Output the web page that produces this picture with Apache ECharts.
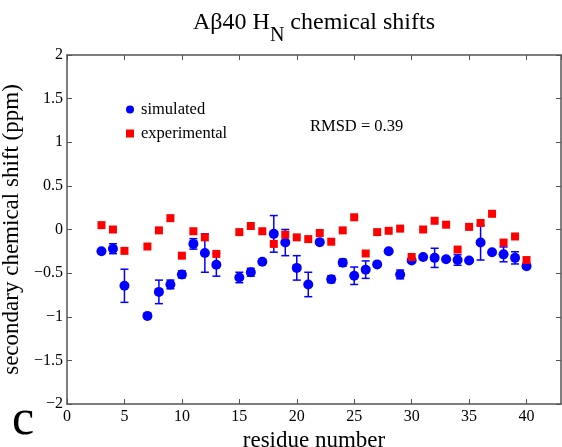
<!DOCTYPE html>
<html>
<head>
<meta charset="utf-8">
<script src="https://cdn.jsdelivr.net/npm/echarts@6/dist/echarts.min.js"></script>
<style>
html,body{margin:0;padding:0;background:#fff;}
#chart{width:562px;height:447px;}
</style>
</head>
<body>
<div id="chart"></div>
<script>
// ---- data ----
var residues = [3,4,5,7,8,9,10,11,12,13,15,16,17,18,19,20,21,22,23,24,25,26,27,28,29,30,31,32,33,34,35,36,37,38,39,40];
var simulated = [-0.25,-0.22,-0.645,-0.99,-0.715,-0.63,-0.515,-0.165,-0.27,-0.405,
                 -0.55,-0.49,-0.37,-0.05,-0.15,-0.44,-0.63,-0.145,-0.57,-0.38,
                 -0.53,-0.46,-0.40,-0.25,-0.515,-0.355,-0.315,-0.325,-0.34,-0.35,
                 -0.355,-0.15,-0.26,-0.285,-0.325,-0.42];
var simulatedErr = [0,0.057,0.19,0,0.135,0.05,0.04,0.06,0.22,0.13,
                    0.06,0.045,0,0.21,0.15,0.14,0.14,0,0.04,0.04,
                    0.10,0.10,0,0,0.05,0,0,0.11,0,0.06,
                    0,0.20,0,0.085,0.07,0];
var experimental = [0.05,0.0,-0.245,-0.195,-0.01,0.13,-0.30,-0.02,-0.09,-0.28,
                    -0.03,0.04,-0.02,-0.165,-0.06,-0.09,-0.11,-0.04,-0.14,-0.01,
                    0.14,-0.275,-0.03,-0.015,0.01,-0.315,0.0,0.10,0.055,-0.23,
                    0.03,0.075,0.18,-0.15,-0.08,-0.35];
var xTicks = {min:0, max:43, interval:5};
var yTicks = {min:-2, max:2, interval:0.5};
var titleParts = ['A\u03b240 H','N',' chemical shifts'];
var seriesNames = ['simulated','experimental'];
var rmsdText = 'RMSD = 0.39';
var panelLabel = 'c';
var xName = 'residue number';
var yName = 'secondary chemical shift (ppm)';

// ---- chart ----
var FONT = 'Liberation Serif';
var AXIS_COLOR = '#555';
var chart = echarts.init(document.getElementById('chart'), null, {renderer:'canvas'});

var simData = residues.map(function(r,i){return [r, simulated[i]];});
var expData = residues.map(function(r,i){return [r, experimental[i]];});
var errData = residues.map(function(r,i){return [r, simulated[i], simulatedErr[i]];});

function minusFmt(v){ return String(v).replace('-', '\u2212'); }

function axis(extra){
  return Object.assign({
    splitLine:{show:false},
    axisLine:{show:true, onZero:false, lineStyle:{color:AXIS_COLOR, width:1.5}},
    axisTick:{show:true, inside:true, length:5, lineStyle:{color:AXIS_COLOR, width:1}}
  }, extra);
}

var option = {
  animation:false,
  backgroundColor:'#fff',
  grid:{left:67, top:55, right:1, bottom:43, containLabel:false, outerBoundsMode:'none'},
  xAxis:[
    axis({type:'value', position:'bottom', min:xTicks.min, max:xTicks.max, interval:xTicks.interval,
      axisLabel:{show:true, showMaxLabel:false, margin:5, fontFamily:FONT, fontSize:16, color:'#000', formatter:minusFmt},
      name:xName, nameLocation:'middle', nameGap:14,
      nameTextStyle:{fontFamily:FONT, fontSize:23, color:'#000'}}),
    axis({type:'value', position:'top', min:xTicks.min, max:xTicks.max, interval:xTicks.interval,
      axisLabel:{show:false}})
  ],
  yAxis:[
    axis({type:'value', position:'left', min:yTicks.min, max:yTicks.max, interval:yTicks.interval,
      axisLabel:{show:true, margin:4, fontFamily:FONT, fontSize:16, color:'#000', formatter:minusFmt},
      name:yName, nameLocation:'middle', nameGap:37, nameRotate:90,
      nameTextStyle:{fontFamily:FONT, fontSize:23, color:'#000'}}),
    axis({type:'value', position:'right', min:yTicks.min, max:yTicks.max, interval:yTicks.interval,
      axisLabel:{show:false}})
  ],
  legend:{
    orient:'vertical', left:121, top:96, itemWidth:8, itemHeight:8, itemGap:7,
    textStyle:{fontFamily:FONT, fontSize:16.5, color:'#000', padding:[0,0,0,2]},
    data:[{name:seriesNames[0], icon:'circle'},{name:seriesNames[1], icon:'rect'}]
  },
  graphic:[
    {type:'text', silent:true, z:10,
     style:{x:314, y:23, align:'center', verticalAlign:'middle',
       text:'{m|'+titleParts[0]+'}{s|'+titleParts[1]+'}{m|'+titleParts[2]+'}',
       rich:{
         m:{fontFamily:FONT, fontSize:24, fill:'#000', lineHeight:26},
         s:{fontFamily:FONT, fontSize:20, fill:'#000', lineHeight:26, padding:[25,0,0,0]}
       }}},
    {type:'text', silent:true, z:10,
     style:{x:310, y:127, align:'left', verticalAlign:'middle', text:rmsdText,
       fontFamily:FONT, fontSize:16.5, fill:'#000'}},
    {type:'text', silent:true, z:10,
     style:{x:12, y:421, align:'left', verticalAlign:'middle', text:panelLabel,
       fontFamily:FONT, fontSize:50, fill:'#000'}}
  ],
  series:[
    {type:'custom', name:'simulated-err', xAxisIndex:0, yAxisIndex:0, z:1, silent:true,
     data:errData,
     renderItem:function(params, api){
       var x = api.value(0), y = api.value(1), e = api.value(2);
       if (!e) return null;
       var top = api.coord([x, y + e]), bot = api.coord([x, y - e]);
       var hw = 4;
       var st = {stroke:'#0000ff', lineWidth:1.5};
       return {type:'group', children:[
         {type:'line', shape:{x1:top[0], y1:top[1], x2:bot[0], y2:bot[1]}, style:st},
         {type:'line', shape:{x1:top[0]-hw, y1:top[1], x2:top[0]+hw, y2:top[1]}, style:st},
         {type:'line', shape:{x1:bot[0]-hw, y1:bot[1], x2:bot[0]+hw, y2:bot[1]}, style:st}
       ]};
     }},
    {type:'scatter', name:seriesNames[0], z:2, symbol:'circle', symbolSize:10,
     itemStyle:{color:'#0000ff', opacity:1}, data:simData},
    {type:'scatter', name:seriesNames[1], z:3, symbol:'rect', symbolSize:8,
     itemStyle:{color:'#ff0000', opacity:1}, data:expData}
  ]
};
chart.setOption(option);
</script>
</body>
</html>
